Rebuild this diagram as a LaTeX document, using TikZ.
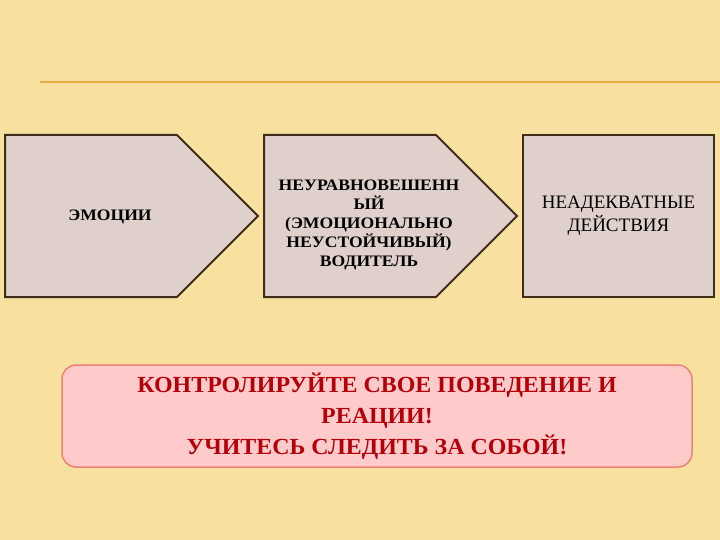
\documentclass[tikz,border=0pt]{standalone}
\usepackage{fontspec}
\setmainfont{Liberation Serif}
\newfontfamily\widefont[FakeStretch=1.1]{Liberation Serif}
\newfontfamily\notefont[FakeStretch=1.04]{Liberation Serif}
\usetikzlibrary{shapes.symbols,positioning}

\definecolor{paper}{RGB}{248,224,158}
\definecolor{rulecol}{RGB}{232,172,64}
\definecolor{boxfill}{RGB}{223,208,204}
\definecolor{boxline}{RGB}{62,44,24}
\definecolor{notefill}{RGB}{255,202,202}
\definecolor{noteline}{RGB}{238,130,120}
\definecolor{notetext}{RGB}{180,0,10}

\begin{document}
\begin{tikzpicture}[x=1pt,y=-1pt,node distance=6pt,
  step box/.style={signal,signal to=east,signal pointer angle=90,draw=boxline,
    fill=boxfill,line width=2pt,outer sep=0pt,minimum width=253pt,
    minimum height=162pt},
  step text/.style={align=center,inner sep=0pt,
    font=\widefont\bfseries\fontsize{16}{19}\selectfont},
  end box/.style={rectangle,draw=boxline,fill=boxfill,line width=2pt,outer sep=0pt,
    minimum width=191pt,minimum height=162pt,align=center,
    font=\fontsize{19}{23.5}\selectfont},
  note box/.style={rectangle,rounded corners=14pt,draw=noteline,fill=notefill,
    line width=1.5pt,minimum width=630pt,minimum height=102pt,align=center,
    text=notetext,font=\notefont\bfseries\fontsize{23}{31}\selectfont}]
  \fill[paper] (0,0) rectangle (720,540);
  \useasboundingbox (0,0) rectangle (720,540);
  \coordinate (rule_a) at (40,82);
  \coordinate (rule_b) at (720,82);
  \draw[rulecol,line width=2pt] (rule_a) -- (rule_b);
  \node[step box,anchor=west] (emotions) at (5,216) {};
  \node[step box] (driver) [right=of emotions] {};
  \node[end box] (actions) [right=of driver] {НЕАДЕКВАТНЫЕ\\ДЕЙСТВИЯ};
  \node[step text] (emotions_text) at ([xshift=19pt,yshift=-1pt]emotions.center) {ЭМОЦИИ};
  \node[step text] (driver_text) at ([xshift=19pt,yshift=-9pt]driver.center)
    {НЕУРАВНОВЕШЕНН\\ЫЙ\\(ЭМОЦИОНАЛЬНО\\НЕУСТОЙЧИВЫЙ)\\ВОДИТЕЛЬ};
  \node[note box] (advice) at (377,416) {КОНТРОЛИРУЙТЕ СВОЕ ПОВЕДЕНИЕ И\\РЕАЦИИ!\\УЧИТЕСЬ СЛЕДИТЬ ЗА СОБОЙ!};
\end{tikzpicture}
\end{document}
